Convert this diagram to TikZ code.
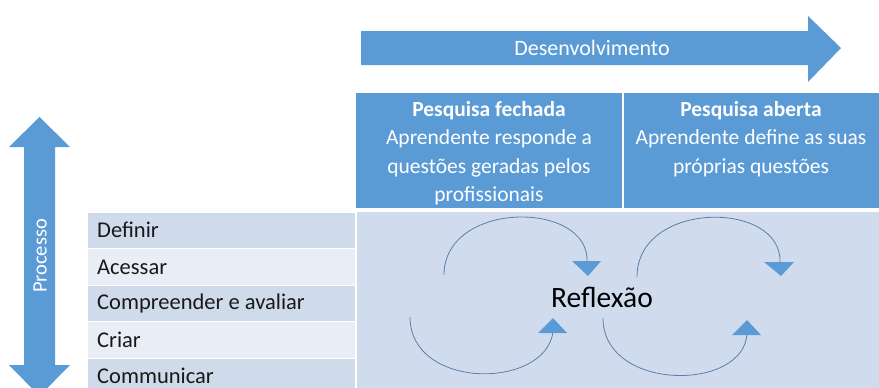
\documentclass[tikz,border=0pt]{standalone}
\usepackage{fontspec}
\setmainfont{Carlito}
\definecolor{mblue}{HTML}{5B9BD5}
\definecolor{rowdark}{HTML}{CFDAEB}
\definecolor{rowlight}{HTML}{E9EEF6}
\definecolor{area}{HTML}{D0DCEE}
\definecolor{arcc}{HTML}{5B7FA6}
\begin{document}
\begin{tikzpicture}[x=1pt,y=-1pt,
  rowtxt/.style={anchor=west,font=\fontsize{22.5}{24}\selectfont,text=black!90,inner sep=0pt},
  headtxt/.style={align=center,font=\fontsize{21.5}{28.5}\selectfont,text=white,inner sep=0pt},
  arcline/.style={draw=arcc,line width=0.8pt},
  tri/.style={fill=mblue,draw=none}]
\useasboundingbox (0,0) rectangle (879,388);
\fill[white] (0,0) rectangle (879,388);
% top arrow
\fill[mblue] (361,31) -- (808,31) -- (808,16) -- (841,48) -- (808,82) -- (808,65) -- (361,65) -- cycle;
\node[font=\fontsize{22}{24}\selectfont,text=white] (dev) at (592,48) {Desenvolvimento};
% vertical arrow
\fill[mblue] (39.5,117) -- (70,147) -- (55,147) -- (55,365) -- (70,365) -- (39.5,396) -- (9,365) -- (24,365) -- (24,147) -- (9,147) -- cycle;
\node[rotate=90,font=\fontsize{20.5}{24}\selectfont,text=white] (proc) at (40,256) {Processo};
% header
\fill[mblue] (356,93) rectangle (879,208);
\draw[white,line width=1.5pt] (623,93) -- (623,208);
\node[headtxt] (h1) at (489,153) {\textbf{Pesquisa fechada}\\Aprendente responde a\\questões geradas pelos\\profissionais};
\node[headtxt] (h2) at (751,139) {\textbf{Pesquisa aberta}\\Aprendente define as suas\\próprias questões};
% lower area
\fill[area] (357,212) rectangle (879,388);
% rows
\fill[rowdark] (88,213) rectangle (355,248);
\fill[rowlight] (88,249) rectangle (355,285);
\fill[rowdark] (88,286) rectangle (355,321);
\fill[rowlight] (88,322) rectangle (355,358);
\fill[rowdark] (88,359) rectangle (355,388);
\node[rowtxt] (r1) at (97,230) {Definir};
\node[rowtxt] (r2) at (97,267) {Acessar};
\node[rowtxt] (r3) at (97,303) {Compreender e avaliar};
\node[rowtxt] (r4) at (97,340) {Criar};
\node[rowtxt] (r5) at (97,376) {Communicar};
% arcs
\draw[arcline] (444,275) .. controls (444,200) and (590,200) .. (587,262);
\draw[arcline] (410,317) .. controls (410,390) and (545,390) .. (553,332);
\draw[arcline] (637,277) .. controls (637,200) and (782,200) .. (780,262);
\draw[arcline] (603,318) .. controls (603,392) and (745,392) .. (747,333);
\fill[tri] (572,261) -- (601,261) -- (588,276) -- cycle;
\fill[tri] (538,333) -- (567,333) -- (553,318) -- cycle;
\fill[tri] (764,262) -- (794,262) -- (781,276) -- cycle;
\fill[tri] (732,335) -- (761,335) -- (747,320) -- cycle;
\node[font=\fontsize{29.5}{32}\selectfont,text=black] (refl) at (602,297) {Reflexão};
\end{tikzpicture}
\end{document}
